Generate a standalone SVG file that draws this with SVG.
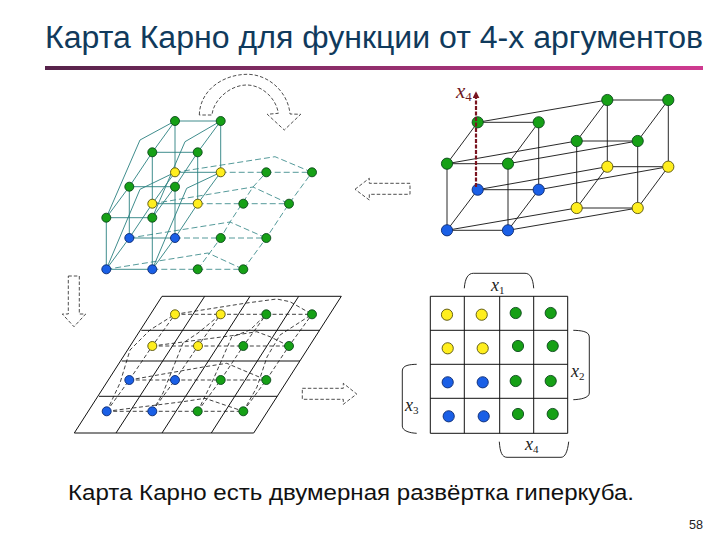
<svg xmlns="http://www.w3.org/2000/svg" width="720" height="540" viewBox="0 0 720 540">
<style>
text{font-family:"Liberation Sans",Arial,sans-serif}
.v{font-family:"Liberation Serif","Times New Roman",serif;font-style:italic;font-size:18px;fill:#222}
.v tspan{font-size:11px;font-style:normal}
line,path,polyline{fill:none}
.t{stroke:#2a8080;stroke-width:.9}
.td{stroke:#2a8080;stroke-width:.8;stroke-dasharray:6 3}
.b{stroke:#111;stroke-width:.9}
.bd{stroke:#111;stroke-width:.8;stroke-dasharray:4 2.5}
.g{stroke:#111;stroke-width:1}
.ar{stroke:#222;stroke-width:.8;stroke-dasharray:3.5 2;fill:#fff}
.gn{fill:#16a016;stroke:#0c4a1c;stroke-width:.9}
.yl{fill:#ffee1e;stroke:#55500c;stroke-width:.9}
.bl{fill:#1a5fe6;stroke:#0c2a70;stroke-width:.9}
</style>
<defs>
<linearGradient id="bar" x1="0" x2="1" y1="0" y2="0"><stop offset="0" stop-color="#56234a"/><stop offset="1" stop-color="#cf3a90"/></linearGradient>
<marker id="ah" viewBox="0 0 8 8" refX="6" refY="4" markerWidth="7" markerHeight="7" orient="auto" markerUnits="userSpaceOnUse"><path d="M0,0L8,4L0,8Z" style="fill:#7a1420"/></marker>
</defs>
<rect width="720" height="540" fill="#fff"/>
<text x="45" y="48" font-size="31" fill="#103a5c" textLength="658" lengthAdjust="spacingAndGlyphs">Карта Карно для функции от 4-х аргументов</text>
<rect x="45" y="66" width="658" height="4" fill="url(#bar)"/>
<text x="68" y="500" font-size="22.5" fill="#111" textLength="566" lengthAdjust="spacingAndGlyphs">Карта Карно есть двумерная развёртка гиперкуба.</text>
<text x="703" y="529" font-size="13" fill="#222" text-anchor="end" textLength="14" lengthAdjust="spacingAndGlyphs">58</text>

<g id="connectors">
<!-- teal hypercube -->
<g class="t">
<path d="M175,121H220.7M152.3,152.3H197.7M129.3,186.7H175M106.3,217.7H152.3M175,172.3H220.7M152.3,203.7H197.7M129.3,238H175M106.3,269.3H152.3"/>
<path d="M106.3,217.7V269.3M152.3,217.7V269.3M129.3,186.7V238M175,186.7V238M152.3,152.3V203.7M197.7,152.3V203.7M175,121V172.3M220.7,121V172.3"/>
<path d="M106.3,217.7L129.3,186.7L152.3,152.3L175,121M152.3,217.7L175,186.7L197.7,152.3L220.7,121"/>
<path d="M106.3,269.3L129.3,238L152.3,203.7L175,172.3M152.3,269.3L175,238L197.7,203.7L220.7,172.3"/>
<path d="M106.3,217.7L140,140L175,121M152.3,217.7L185,141.7L220.7,121M106.3,269.3L140,189.3L175,172.3M152.3,269.3L186.7,188.3L220.7,172.3"/>
</g>
<g class="td">
<path d="M220.7,172.3H312M197.7,203.7H289M175,238H266.3M152.3,269.3H243.3"/>
<path d="M175,172.3L275,156.7L312,172.3M152.3,203.7L253,187L289,203.7M129.3,238L230,222L266.3,238M106.3,269.3L208,253L243.3,269.3"/>
<path d="M197.7,269.3L220.7,238L230,222L253,187L266.3,172.3M243.3,269.3L266.3,238L289,203.7L312,172.3"/>
</g>
<!-- black cube -->
<g class="b">
<path d="M477.7,122.3H538.7M607.3,100H668.3M447,163.7H508M576.7,141H637.7M477.7,189.7H538.7M607.3,166.7H668.3M447,230.3H508M576.7,208H637.7"/>
<path d="M447,163.7V230.3M508,163.7V230.3M538.7,122.3V189.7M576.7,141V208M637.7,141V208M607.3,100V166.7M668.3,100V166.7"/>
<path d="M447,163.7L477.7,122.3M508,163.7L538.7,122.3M576.7,141L607.3,100M637.7,141L668.3,100M447,230.3L477.7,189.7M508,230.3L538.7,189.7M576.7,208L607.3,166.7M637.7,208L668.3,166.7"/>
<path d="M477.7,122.3L607.3,100M447,163.7L576.7,141M508,163.7L637.7,141M477.7,189.7L607.3,166.7M538.7,189.7L668.3,166.7M447,230.3L576.7,208M508,230.3L637.7,208"/>
</g>
<!-- flattened grid -->
<g class="g">
<path d="M162,296.3H341.3L253.7,433H74.3ZM141.3,330.3H320M121.7,361H300M99,396.3H277.3M204.7,296.3L116,433M250,296.3L162,433M298.7,296.3L211.3,433"/>
</g>
<g class="bd">
<path d="M175,314.3H312M152.3,346H289M129.3,380H266.3M106.7,411.3H243.3"/>
<path d="M175,314.3L246.7,303L276.7,299L290,301.7L312,314.3M152.3,346L231.7,335.7L256.7,331.7L270,336.7L289,346M129.3,380L205,366.7L226.7,363.3L266.3,380M106.7,411.3L183,401.7L205,398.3L243.3,411.3"/>
<path d="M106.7,411.3L129.3,380L152.3,346L175,314.3M152.3,411.3L175,380L198,346L220.7,314.3M197.7,411.3L220.7,380L243.3,346L266.3,314.3M243.3,411.3L266.3,380L289,346L312,314.3"/>
<path d="M106.7,411.3L120,383L130,350L150,330L175,314.3M152.3,411.3L163,393L183,343L198,333L220.7,314.3M197.7,411.3L213,380L231.7,337L250,330L266.3,314.3M243.3,411.3L257,387L267,357L280,335L312,314.3"/>
</g>
<!-- braces -->
<g class="b">
<path d="M464.3,288.3C465,278 468.3,273.3 473.3,273.3L525,273.3C530,273.3 533,278 533.7,288.3"/>
<path d="M573.3,330.3C580,330.5 589.3,331 589.3,337V393C589.3,398 580,399.5 573.3,399.7"/>
<path d="M416.7,364.3C410,364.5 402.3,365 402.3,371V426C402.3,431 410,433 416.7,433.3"/>
<path d="M499.3,441.7C500,452 502,457.3 507,457.3H561C565,457.3 567.5,452 568.7,441.7"/>
</g>
</g>

<g id="map-grid"><path class="g" d="M430.3,296.3H567.7V433.3H430.3ZM464.3,296.3V433.3M499.7,296.3V433.3M533.7,296.3V433.3M430.3,330.3H567.7M430.3,364.3H567.7M430.3,398.3H567.7"/></g>

<g id="arrow-curved"><path class="ar" d="M199.3,115C200,90 223.3,74 248.3,74.3C270,75 288.3,93.3 290,114L300.7,114.3L284.3,130L267.3,114.3L278.3,113.3C276.7,100 263.3,85 246.7,85C230,85 213.3,100 212,115Z"/></g>
<g id="arrow-left"><path class="ar" d="M355,189.3L369.3,178.3V183.3H410V194.3H369.3V200Z"/></g>
<g id="arrow-down"><path class="ar" d="M68.3,276H79.3V314H85.7L74,326.7L62.3,314H68.3Z"/></g>
<g id="arrow-right"><path class="ar" d="M302.3,388.3H343.3V383.3L356.7,394L343.3,404.3V399.3H302.3Z"/></g>

<g id="cube4d-nodes">
<g id="a1"><circle class="gn" cx="175" cy="121" r="4.5"/></g>
<g id="a2"><circle class="gn" cx="220.7" cy="121" r="4.5"/></g>
<g id="a3"><circle class="gn" cx="152.3" cy="152.3" r="4.5"/></g>
<g id="a4"><circle class="gn" cx="197.7" cy="152.3" r="4.5"/></g>
<g id="a5"><circle class="gn" cx="129.3" cy="186.7" r="4.5"/></g>
<g id="a6"><circle class="gn" cx="175" cy="186.7" r="4.5"/></g>
<g id="a7"><circle class="gn" cx="106.3" cy="217.7" r="4.5"/></g>
<g id="a8"><circle class="gn" cx="152.3" cy="217.7" r="4.5"/></g>
<g id="a9"><circle class="yl" cx="175" cy="172.3" r="4.5"/></g>
<g id="a10"><circle class="yl" cx="220.7" cy="172.3" r="4.5"/></g>
<g id="a11"><circle class="gn" cx="266.3" cy="172.3" r="4.5"/></g>
<g id="a12"><circle class="gn" cx="312" cy="172.3" r="4.5"/></g>
<g id="a13"><circle class="yl" cx="152.3" cy="203.7" r="4.5"/></g>
<g id="a14"><circle class="yl" cx="197.7" cy="203.7" r="4.5"/></g>
<g id="a15"><circle class="gn" cx="243.3" cy="203.7" r="4.5"/></g>
<g id="a16"><circle class="gn" cx="289" cy="203.7" r="4.5"/></g>
<g id="a17"><circle class="bl" cx="129.3" cy="238" r="4.5"/></g>
<g id="a18"><circle class="bl" cx="175" cy="238" r="4.5"/></g>
<g id="a19"><circle class="gn" cx="220.7" cy="238" r="4.5"/></g>
<g id="a20"><circle class="gn" cx="266.3" cy="238" r="4.5"/></g>
<g id="a21"><circle class="bl" cx="106.3" cy="269.3" r="4.5"/></g>
<g id="a22"><circle class="bl" cx="152.3" cy="269.3" r="4.5"/></g>
<g id="a23"><circle class="gn" cx="197.7" cy="269.3" r="4.5"/></g>
<g id="a24"><circle class="gn" cx="243.3" cy="269.3" r="4.5"/></g>
</g>

<g id="cube-nodes">
<g id="b1"><circle class="gn" cx="477.7" cy="122.3" r="5.6"/></g>
<g id="b2"><circle class="gn" cx="538.7" cy="122.3" r="5.6"/></g>
<g id="b3"><circle class="gn" cx="607.3" cy="100" r="5.6"/></g>
<g id="b4"><circle class="gn" cx="668.3" cy="100" r="5.6"/></g>
<g id="b5"><circle class="gn" cx="447" cy="163.7" r="5.6"/></g>
<g id="b6"><circle class="gn" cx="508" cy="163.7" r="5.6"/></g>
<g id="b7"><circle class="gn" cx="576.7" cy="141" r="5.6"/></g>
<g id="b8"><circle class="gn" cx="637.7" cy="141" r="5.6"/></g>
<g id="b9"><circle class="bl" cx="477.7" cy="189.7" r="5.6"/></g>
<g id="b10"><circle class="bl" cx="538.7" cy="189.7" r="5.6"/></g>
<g id="b11"><circle class="yl" cx="607.3" cy="166.7" r="5.6"/></g>
<g id="b12"><circle class="yl" cx="668.3" cy="166.7" r="5.6"/></g>
<g id="b13"><circle class="bl" cx="447" cy="230.3" r="5.6"/></g>
<g id="b14"><circle class="bl" cx="508" cy="230.3" r="5.6"/></g>
<g id="b15"><circle class="yl" cx="576.7" cy="208" r="5.6"/></g>
<g id="b16"><circle class="yl" cx="637.7" cy="208" r="5.6"/></g>
</g>

<g id="x4-axis">
<path d="M476,187V93" style="stroke:#7a1420;stroke-width:2.2;stroke-dasharray:4 1.5" marker-end="url(#ah)"/>
<text class="v" x="456" y="98" style="fill:#6e1a22;font-size:21px">x<tspan dy="3" style="font-size:13px">4</tspan></text>
</g>

<g id="flat-nodes">
<g id="c1"><circle class="yl" cx="175" cy="314.3" r="4.5"/></g>
<g id="c2"><circle class="yl" cx="220.7" cy="314.3" r="4.5"/></g>
<g id="c3"><circle class="gn" cx="266.3" cy="314.3" r="4.5"/></g>
<g id="c4"><circle class="gn" cx="312" cy="314.3" r="4.5"/></g>
<g id="c5"><circle class="yl" cx="152.3" cy="346" r="4.5"/></g>
<g id="c6"><circle class="yl" cx="198" cy="346" r="4.5"/></g>
<g id="c7"><circle class="gn" cx="243.3" cy="346" r="4.5"/></g>
<g id="c8"><circle class="gn" cx="289" cy="346" r="4.5"/></g>
<g id="c9"><circle class="bl" cx="129.3" cy="380" r="4.5"/></g>
<g id="c10"><circle class="bl" cx="175" cy="380" r="4.5"/></g>
<g id="c11"><circle class="gn" cx="220.7" cy="380" r="4.5"/></g>
<g id="c12"><circle class="gn" cx="266.3" cy="380" r="4.5"/></g>
<g id="c13"><circle class="bl" cx="106.7" cy="411.3" r="4.5"/></g>
<g id="c14"><circle class="bl" cx="152.3" cy="411.3" r="4.5"/></g>
<g id="c15"><circle class="gn" cx="197.7" cy="411.3" r="4.5"/></g>
<g id="c16"><circle class="gn" cx="243.3" cy="411.3" r="4.5"/></g>
</g>

<g id="map-nodes">
<g id="d1"><circle class="yl" cx="447" cy="314.7" r="5.6"/></g>
<g id="d2"><circle class="yl" cx="481.7" cy="314.7" r="5.6"/></g>
<g id="d3"><circle class="gn" cx="515.7" cy="313" r="5.6"/></g>
<g id="d4"><circle class="gn" cx="550.7" cy="313" r="5.6"/></g>
<g id="d5"><circle class="yl" cx="447.7" cy="348.3" r="5.6"/></g>
<g id="d6"><circle class="yl" cx="482.7" cy="348.3" r="5.6"/></g>
<g id="d7"><circle class="gn" cx="518" cy="346" r="5.6"/></g>
<g id="d8"><circle class="gn" cx="552.7" cy="346" r="5.6"/></g>
<g id="d9"><circle class="bl" cx="447.7" cy="382.3" r="5.6"/></g>
<g id="d10"><circle class="bl" cx="482.7" cy="382.3" r="5.6"/></g>
<g id="d11"><circle class="gn" cx="515.7" cy="381" r="5.6"/></g>
<g id="d12"><circle class="gn" cx="550.7" cy="381" r="5.6"/></g>
<g id="d13"><circle class="bl" cx="448.7" cy="416.3" r="5.6"/></g>
<g id="d14"><circle class="bl" cx="483.7" cy="416.3" r="5.6"/></g>
<g id="d15"><circle class="gn" cx="518" cy="414" r="5.6"/></g>
<g id="d16"><circle class="gn" cx="552.7" cy="414" r="5.6"/></g>
</g>

<g id="labels">
<text class="v" x="491" y="291">x<tspan dy="3">1</tspan></text>
<text class="v" x="571" y="377">x<tspan dy="3">2</tspan></text>
<text class="v" x="405" y="411">x<tspan dy="3">3</tspan></text>
<text class="v" x="525" y="450">x<tspan dy="3">4</tspan></text>
</g>
</svg>
